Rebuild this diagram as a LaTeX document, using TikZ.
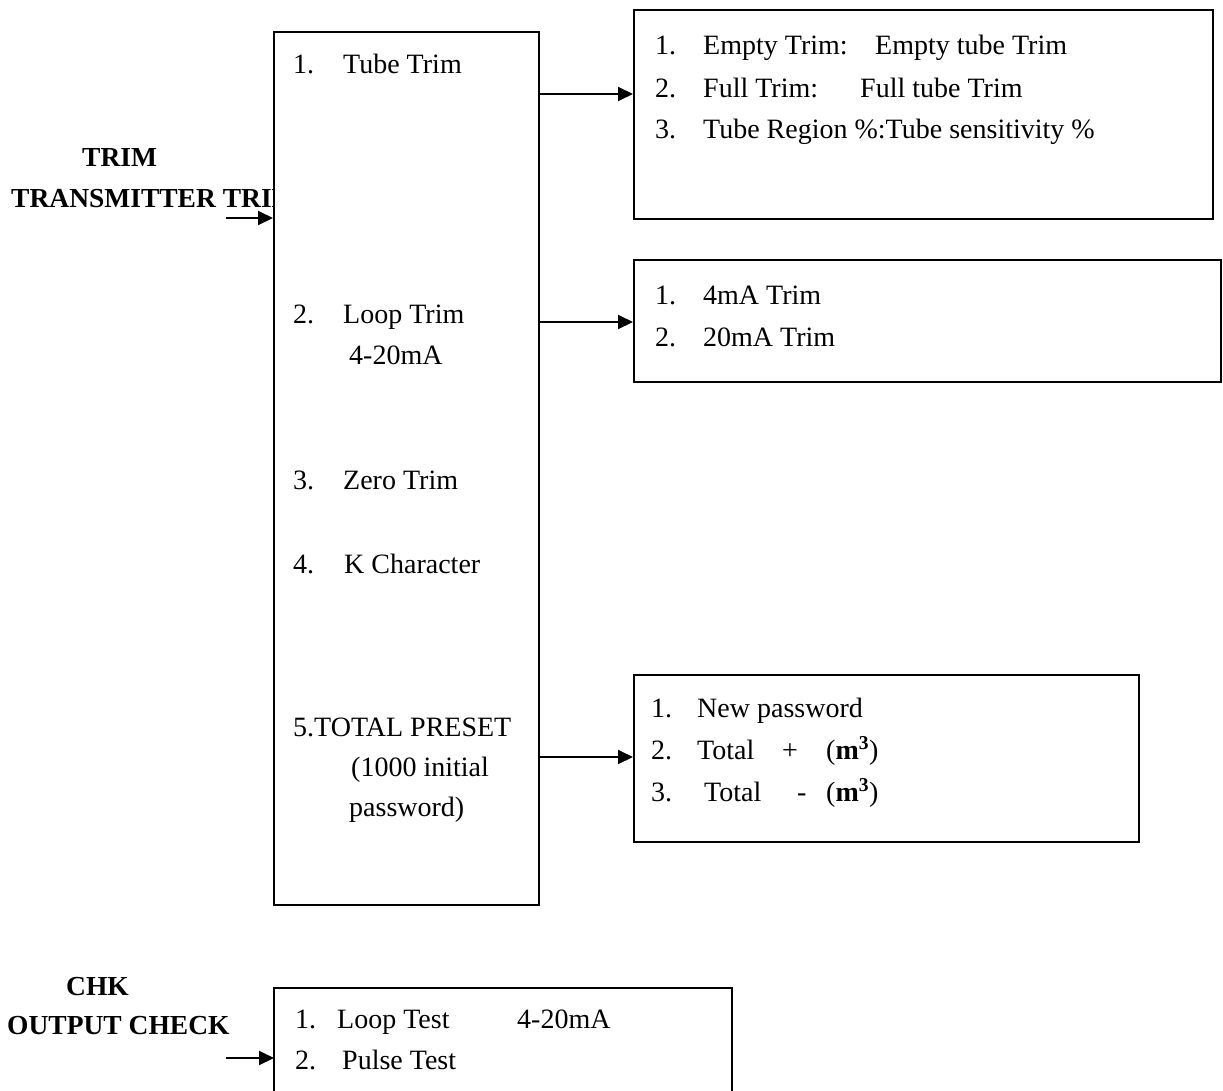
\documentclass[tikz,border=0pt]{standalone}
\usepackage{fontspec}
\setmainfont{Liberation Serif}
\usetikzlibrary{arrows.meta}
\begin{document}
\begin{tikzpicture}[x=1pt,y=-1pt,
  box/.style={draw,line width=2pt,inner sep=0pt,rectangle},
  txt/.style={anchor=base west,inner sep=0pt,font=\fontsize{28}{32}\selectfont},
  btxt/.style={anchor=base west,inner sep=0pt,font=\fontsize{27.5}{32}\selectfont\bfseries},
  arr/.style={line width=2pt,-{Triangle[length=15pt,width=14pt]}}]
\useasboundingbox (0,0) rectangle (1223,1090);
% boxes
\node[box,minimum width=265pt,minimum height=873pt] (main) at (406.5,468.5) {};
\node[box,minimum width=579pt,minimum height=209pt] (b1) at (923.5,114.5) {};
\node[box,minimum width=587pt,minimum height=122pt] (b2) at (927.5,321) {};
\node[box,minimum width=505pt,minimum height=167pt] (b3) at (886.5,758.5) {};
\draw[line width=2pt] (274,1100) -- (274,988) -- (732,988) -- (732,1100);
\coordinate (b4w) at (274,1058);
% main texts
\node[txt] (m1n) at (293,73) {1.};
\node[txt] (m1t) at (343,73) {Tube Trim};
\node[txt] (m2n) at (293,323) {2.};
\node[txt] (m2t) at (343,323) {Loop Trim};
\node[txt] (m2u) at (349,364) {4-20mA};
\node[txt] (m3n) at (293,489) {3.};
\node[txt] (m3t) at (343,489) {Zero Trim};
\node[txt] (m4n) at (293,573) {4.};
\node[txt] (m4t) at (344,573) {K Character};
\node[txt] (m5t) at (293,736) {5.TOTAL PRESET};
\node[txt] (m5u) at (351,776) {(1000 initial};
\node[txt] (m5v) at (349,816) {password)};
% box1
\node[txt] (a1n) at (655,54) {1.};
\node[txt] (a1t) at (703,54) {Empty Trim:};
\node[txt] (a1u) at (875,54) {Empty tube Trim};
\node[txt] (a2n) at (655,97) {2.};
\node[txt] (a2t) at (703,97) {Full Trim:};
\node[txt] (a2u) at (860,97) {Full tube Trim};
\node[txt] (a3n) at (655,138) {3.};
\node[txt] (a3t) at (703,138) {Tube Region \%:Tube sensitivity \%};
% box2
\node[txt] (c1n) at (655,304) {1.};
\node[txt] (c1t) at (703,304) {4mA Trim};
\node[txt] (c2n) at (655,346) {2.};
\node[txt] (c2t) at (703,346) {20mA Trim};
% box3
\node[txt] (d1n) at (651,717) {1.};
\node[txt] (d1t) at (697,717) {New password};
\node[txt] (d2n) at (651,759) {2.};
\node[txt] (d2t) at (697,759) {Total};
\node[txt] (d2p) at (782,759) {+};
\node[txt] (d2m) at (826,759) {(\textbf{m\textsuperscript{3}})};
\node[txt] (d3n) at (651,801) {3.};
\node[txt] (d3t) at (704,801) {Total};
\node[txt] (d3p) at (797,801) {-};
\node[txt] (d3m) at (826,801) {(\textbf{m\textsuperscript{3}})};
% bottom box
\node[txt] (e1n) at (295,1028) {1.};
\node[txt] (e1t) at (337,1028) {Loop Test};
\node[txt] (e1u) at (517,1028) {4-20mA};
\node[txt] (e2n) at (295,1069) {2.};
\node[txt] (e2t) at (342,1069) {Pulse Test};
% left labels
\node[btxt] (trim) at (82,166) {TRIM};
\begin{scope}
\clip (0,170) rectangle (273,222);
\node[btxt] (trimt) at (11,207) {TRANSMITTER TRIM};
\end{scope}
\node[btxt] (chk) at (66,995) {CHK};
\node[btxt] (outc) at (7,1034) {OUTPUT CHECK};
% arrows
\coordinate (s0) at (226,218);
\draw[arr] (s0) -- (main.west |- s0);
\coordinate (s1) at (539,94);
\draw[arr] (s1) -- (b1.west |- s1);
\coordinate (s2) at (539,322);
\draw[arr] (s2) -- (b2.west |- s2);
\coordinate (s3) at (539,757);
\draw[arr] (s3) -- (b3.west |- s3);
\coordinate (s4) at (226,1058);
\draw[arr] (s4) -- (b4w);
\end{tikzpicture}
\end{document}
